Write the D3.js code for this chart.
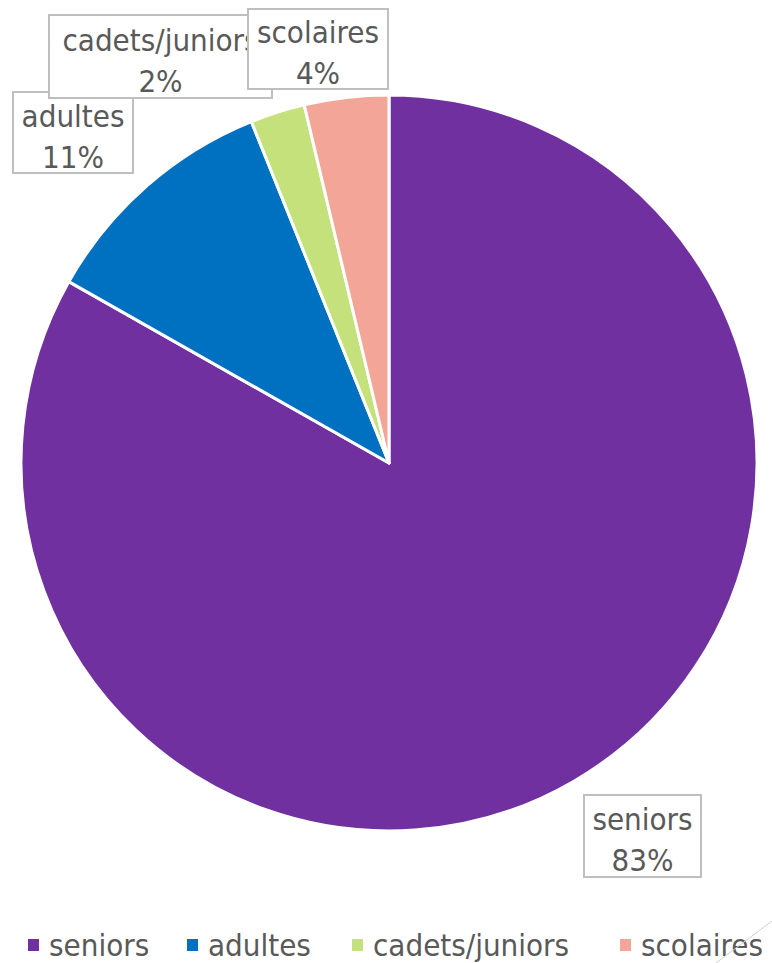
<!DOCTYPE html>
<html>
<head>
<meta charset="utf-8">
<script src="https://cdn.jsdelivr.net/npm/d3@7"></script>
<style>
  body { margin: 0; background: #fff; }
  svg { display: block; font-family: "DejaVu Sans Condensed", "DejaVu Sans", sans-serif; }
</style>
</head>
<body>
<svg id="chart" width="772" height="963"></svg>
<script>
const categories = ["seniors", "adultes", "cadets/juniors", "scolaires"];
const shares = [83.2, 10.7, 2.4, 3.7];
const pctLabels = ["83%", "11%", "2%", "4%"];
const colors = ["#7030A0", "#0070C0", "#C4E17B", "#F3A597"];

// hand placed label boxes (center x, center y, width, height), drawn in this order
const labelBoxes = [
    { i: 0, cx: 642.5, cy: 836, w: 117, h: 82 },
    { i: 1, cx: 73, cy: 132.5, w: 120, h: 81 },
    { i: 2, cx: 160.5, cy: 56.5, w: 223, h: 83 },
    { i: 3, cx: 318, cy: 49, w: 140, h: 80 }
];

const width = 772, height = 963;
const cx = 389, cy = 463, radius = 368;
const svg = d3.select("#chart");

const pie = d3.pie().sort(null).value(d => d)(shares);
const arc = d3.arc().innerRadius(0).outerRadius(radius);

const g = svg.append("g").attr("transform", `translate(${cx},${cy})`);
g.selectAll("path")
    .data(pie)
    .enter().append("path")
    .attr("d", arc)
    .attr("fill", (d, i) => colors[i])
    .attr("stroke", "#fff")
    .attr("stroke-width", 3)
    .attr("stroke-linejoin", "round");

// data labels
const lab = svg.selectAll("g.label")
    .data(labelBoxes)
    .enter().append("g")
    .attr("class", "label")
    .attr("transform", d => `translate(${d.cx},${d.cy})`);

lab.append("rect")
    .attr("x", d => -d.w / 2)
    .attr("y", d => -d.h / 2)
    .attr("width", d => d.w)
    .attr("height", d => d.h)
    .attr("fill", "#fff")
    .attr("stroke", "#BFBFBF")
    .attr("stroke-width", 2);

lab.append("text")
    .attr("text-anchor", "middle")
    .attr("y", -6)
    .attr("fill", "#595959")
    .style("font-size", "31px")
    .text(d => categories[d.i]);

lab.append("text")
    .attr("text-anchor", "middle")
    .attr("y", 35)
    .attr("fill", "#595959")
    .style("font-size", "31px")
    .text(d => pctLabels[d.i]);

// legend
const legendX = [28, 187, 352, 620];
const legend = svg.selectAll("g.legend")
    .data(categories)
    .enter().append("g")
    .attr("class", "legend")
    .attr("transform", (d, i) => `translate(${legendX[i]},945)`);

legend.append("rect")
    .attr("x", 0)
    .attr("y", -6)
    .attr("width", 11)
    .attr("height", 12)
    .attr("fill", (d, i) => colors[i]);

legend.append("text")
    .attr("x", 21)
    .attr("y", 11)
    .attr("fill", "#595959")
    .style("font-size", "31px")
    .text(d => d);

// resize grip artefact at bottom right
svg.append("line")
    .attr("x1", 772).attr("y1", 921)
    .attr("x2", 716).attr("y2", 963)
    .attr("stroke", "#D0D0D0")
    .attr("stroke-width", 1);
</script>
</body>
</html>
